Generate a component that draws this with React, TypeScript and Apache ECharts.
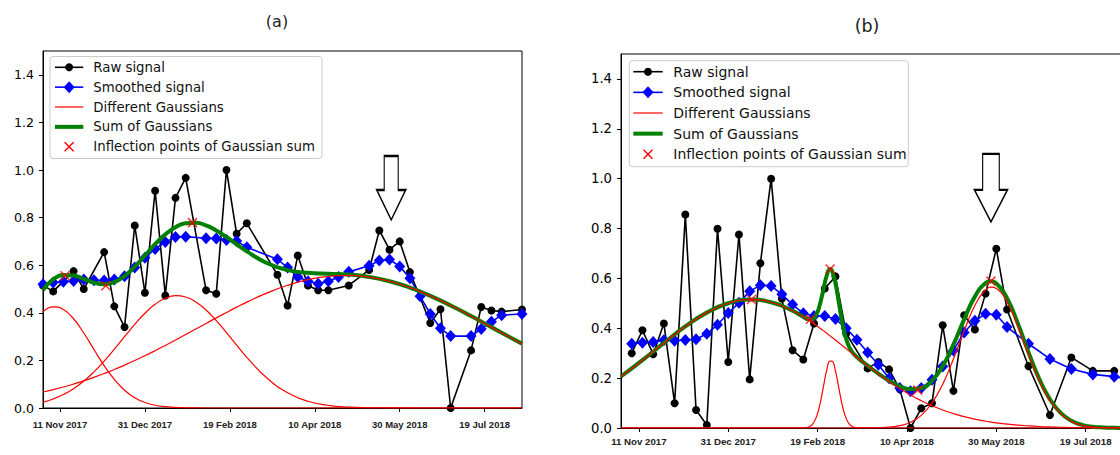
import React, { useEffect, useRef } from "react";
import * as echarts from "echarts";

// ---------- shared axis settings ----------
const X_START = "2017-11-01";
const X_END = "2018-08-10";
const Y_MAX = 1.5;
const TICK_DATES = ["2017-11-11", "2017-12-31", "2018-02-19", "2018-04-10", "2018-05-30", "2018-07-19"];
const TICK_LABELS = ["11 Nov 2017", "31 Dec 2017", "19 Feb 2018", "10 Apr 2018", "30 May 2018", "19 Jul 2018"];
const Y_TICKS = [0, 0.2, 0.4, 0.6, 0.8, 1.0, 1.2, 1.4];
const PANEL_TITLES = ["(a)", "(b)"];
const LEGEND_LABELS = [
  "Raw signal",
  "Smoothed signal",
  "Different Gaussians",
  "Sum of Gaussians",
  "Inflection points of Gaussian sum",
];

// ---------- panel (a) ----------
const RAW_A_DATES = [
  "2017-11-01", "2017-11-07", "2017-11-19", "2017-11-25", "2017-12-07", "2017-12-13", "2017-12-19",
  "2017-12-25", "2017-12-31", "2018-01-06", "2018-01-12", "2018-01-18", "2018-01-24", "2018-02-05",
  "2018-02-11", "2018-02-17", "2018-02-23", "2018-03-01", "2018-03-19", "2018-03-25", "2018-03-31",
  "2018-04-06", "2018-04-12", "2018-04-18", "2018-04-30", "2018-05-12", "2018-05-18", "2018-05-24",
  "2018-05-30", "2018-06-05", "2018-06-17", "2018-06-23", "2018-06-29", "2018-07-11", "2018-07-17",
  "2018-07-23", "2018-07-29", "2018-08-10",
];
const RAW_A = [
  0.515, 0.49, 0.575, 0.5, 0.655, 0.427, 0.34,
  0.767, 0.484, 0.913, 0.473, 0.883, 0.967, 0.495,
  0.48, 1.0, 0.732, 0.776, 0.56, 0.431, 0.641,
  0.515, 0.495, 0.495, 0.515, 0.58, 0.746, 0.665,
  0.7, 0.571, 0.357, 0.415, 0.0, 0.242, 0.424,
  0.41, 0.405, 0.414,
];
const SMOOTH_A_DATES = [
  "2017-11-01", "2017-11-07", "2017-11-13", "2017-11-19", "2017-11-25", "2017-12-01", "2017-12-07",
  "2017-12-13", "2017-12-19", "2017-12-25", "2017-12-31", "2018-01-06", "2018-01-12", "2018-01-18",
  "2018-01-24", "2018-02-05", "2018-02-11", "2018-02-17", "2018-02-23", "2018-03-01", "2018-03-19",
  "2018-03-25", "2018-03-31", "2018-04-06", "2018-04-12", "2018-04-18", "2018-04-24", "2018-04-30",
  "2018-05-12", "2018-05-18", "2018-05-24", "2018-05-30", "2018-06-05", "2018-06-11", "2018-06-17",
  "2018-06-23", "2018-06-29", "2018-07-11", "2018-07-17", "2018-07-23", "2018-07-29", "2018-08-10",
];
const SMOOTH_A = [
  0.52, 0.527, 0.53, 0.534, 0.54, 0.537, 0.536,
  0.54, 0.554, 0.59, 0.631, 0.668, 0.698, 0.718,
  0.72, 0.713, 0.712, 0.706, 0.702, 0.675, 0.625,
  0.59, 0.55, 0.533, 0.522, 0.533, 0.55, 0.572,
  0.598, 0.62, 0.624, 0.595, 0.545, 0.47, 0.395,
  0.335, 0.302, 0.302, 0.332, 0.362, 0.39, 0.395,
];
const CURVE_A_DATES = [
  "2017-11-01", "2017-11-07", "2017-11-13", "2017-11-19", "2017-11-25", "2017-12-01", "2017-12-07",
  "2017-12-13", "2017-12-19", "2017-12-25", "2017-12-31", "2018-01-06", "2018-01-12", "2018-01-18",
  "2018-01-24", "2018-01-30", "2018-02-05", "2018-02-11", "2018-02-17", "2018-02-23", "2018-03-01",
  "2018-03-13", "2018-03-25", "2018-04-06", "2018-04-18", "2018-04-30", "2018-05-12", "2018-05-24",
  "2018-06-05", "2018-06-17", "2018-06-29", "2018-07-11", "2018-07-23", "2018-08-04", "2018-08-10",
];
const GAUSS_A1 = [
  0.404, 0.425, 0.414, 0.375, 0.315, 0.246, 0.178,
  0.12, 0.0748, 0.0434, 0.0233, 0.0117, 0.0054, 0.0023,
  0.0009, 0.0003, 0.0001, 0, 0, 0, 0,
  0, 0, 0, 0, 0, 0, 0,
  0, 0, 0, 0, 0, 0, 0,
];
const GAUSS_A2 = [
  0.0246, 0.0379, 0.0564, 0.0811, 0.1128, 0.1515, 0.1968,
  0.2469, 0.2995, 0.3511, 0.3979, 0.4357, 0.4612, 0.4718,
  0.4664, 0.4457, 0.4116, 0.3675, 0.317, 0.2643, 0.213,
  0.1249, 0.0639, 0.0285, 0.0111, 0.0038, 0.0011, 0.0003,
  0.0001, 0, 0, 0, 0, 0, 0,
];
const GAUSS_A3 = [
  0.0671, 0.0771, 0.0883, 0.1007, 0.1142, 0.1289, 0.1448,
  0.1618, 0.1801, 0.1994, 0.2197, 0.2409, 0.2629, 0.2855,
  0.3086, 0.332, 0.3554, 0.3787, 0.4015, 0.4237, 0.4449,
  0.4835, 0.5156, 0.5393, 0.5533, 0.5569, 0.5497, 0.5324,
  0.5058, 0.4713, 0.4308, 0.3863, 0.3398, 0.2932, 0.2704,
];
const SUM_A = [
  0.4957, 0.54, 0.5587, 0.5568, 0.542, 0.5264, 0.5196,
  0.5287, 0.5544, 0.5939, 0.6409, 0.6883, 0.7295, 0.7596,
  0.7759, 0.778, 0.7671, 0.7462, 0.7185, 0.688, 0.6579,
  0.6084, 0.5795, 0.5678, 0.5644, 0.5607, 0.5508, 0.5327,
  0.5059, 0.4713, 0.4308, 0.3863, 0.3398, 0.2932, 0.2704,
];
const INFLECT_A_DATES = ["2017-11-14", "2017-12-08", "2018-01-28"];
const INFLECT_A = [0.556, 0.514, 0.779];
const ARROW_A_DATE = "2018-05-25";
const ARROW_A_VALUE = 0.79;

// ---------- panel (b) ----------
const RAW_B_DATES = [
  "2017-11-07", "2017-11-13", "2017-11-19", "2017-11-25", "2017-12-01", "2017-12-07", "2017-12-13",
  "2017-12-19", "2017-12-25", "2017-12-31", "2018-01-06", "2018-01-12", "2018-01-18", "2018-01-24",
  "2018-01-30", "2018-02-05", "2018-02-11", "2018-02-17", "2018-02-23", "2018-03-01", "2018-03-07",
  "2018-03-19", "2018-03-25", "2018-03-31", "2018-04-06", "2018-04-12", "2018-04-18", "2018-04-24",
  "2018-04-30", "2018-05-06", "2018-05-12", "2018-05-18", "2018-05-24", "2018-05-30", "2018-06-05",
  "2018-06-17", "2018-06-29", "2018-07-11", "2018-07-23", "2018-08-04",
];
const RAW_B = [
  0.3, 0.392, 0.296, 0.419, 0.099, 0.856, 0.072,
  0.012, 0.799, 0.265, 0.776, 0.195, 0.661, 1.0,
  0.519, 0.312, 0.275, 0.419, 0.559, 0.608, 0.379,
  0.239, 0.265, 0.235, 0.155, 0.0, 0.079, 0.099,
  0.412, 0.149, 0.452, 0.395, 0.539, 0.719, 0.475,
  0.248, 0.052, 0.283, 0.229, 0.229,
];
const SMOOTH_B_DATES = [
  "2017-11-07", "2017-11-13", "2017-11-19", "2017-11-25", "2017-12-01", "2017-12-07", "2017-12-13",
  "2017-12-19", "2017-12-25", "2017-12-31", "2018-01-06", "2018-01-12", "2018-01-18", "2018-01-24",
  "2018-01-30", "2018-02-05", "2018-02-11", "2018-02-17", "2018-02-23", "2018-03-01", "2018-03-07",
  "2018-03-13", "2018-03-19", "2018-03-25", "2018-03-31", "2018-04-06", "2018-04-12", "2018-04-18",
  "2018-04-24", "2018-04-30", "2018-05-06", "2018-05-12", "2018-05-18", "2018-05-24", "2018-05-30",
  "2018-06-05", "2018-06-17", "2018-06-29", "2018-07-11", "2018-07-23", "2018-08-04", "2018-08-10",
];
const SMOOTH_B = [
  0.338, 0.342, 0.345, 0.352, 0.35, 0.353, 0.356,
  0.378, 0.414, 0.461, 0.502, 0.548, 0.573, 0.57,
  0.536, 0.495, 0.46, 0.449, 0.449, 0.437, 0.4,
  0.354, 0.303, 0.254, 0.2, 0.16, 0.147, 0.16,
  0.194, 0.247, 0.311, 0.383, 0.43, 0.458, 0.454,
  0.405, 0.338, 0.277, 0.237, 0.215, 0.206, 0.2,
];
const CURVE_B_DATES = [
  "2017-11-01", "2017-11-13", "2017-11-25", "2017-12-07", "2017-12-19", "2017-12-31", "2018-01-12",
  "2018-01-24", "2018-02-05", "2018-02-11", "2018-02-14", "2018-02-16", "2018-02-18", "2018-02-20",
  "2018-02-22", "2018-02-24", "2018-02-26", "2018-02-27", "2018-03-01", "2018-03-03", "2018-03-05",
  "2018-03-07", "2018-03-09", "2018-03-11", "2018-03-14", "2018-03-19", "2018-03-25", "2018-03-31",
  "2018-04-06", "2018-04-12", "2018-04-18", "2018-04-24", "2018-04-30", "2018-05-06", "2018-05-12",
  "2018-05-18", "2018-05-24", "2018-05-27", "2018-05-30", "2018-06-05", "2018-06-11", "2018-06-17",
  "2018-06-23", "2018-06-29", "2018-07-05", "2018-07-11", "2018-07-17", "2018-07-23", "2018-07-29",
  "2018-08-04", "2018-08-10",
];
const GAUSS_B1 = [
  0.2065, 0.2721, 0.3412, 0.4073, 0.4627, 0.5003, 0.5149,
  0.5044, 0.4703, 0.4458, 0.4321, 0.4224, 0.4124, 0.402,
  0.3915, 0.3806, 0.3695, 0.364, 0.3526, 0.3412, 0.3297,
  0.3181, 0.3066, 0.295, 0.2778, 0.2496, 0.217, 0.1863,
  0.1581, 0.1324, 0.1096, 0.0896, 0.0723, 0.0577, 0.0454,
  0.0353, 0.0272, 0.0237, 0.0206, 0.0155, 0.0114, 0.0084,
  0.006, 0.0043, 0.003, 0.0021, 0.0015, 0.001, 0.0007,
  0.0004, 0.0003,
];
const GAUSS_B2 = [
  0, 0, 0, 0, 0, 0, 0,
  0, 0, 0.0004, 0.0039, 0.0137, 0.0383, 0.0861,
  0.1561, 0.228, 0.2682, 0.2682, 0.228, 0.1561, 0.0861,
  0.0383, 0.0137, 0.0039, 0.0004, 0, 0, 0,
  0, 0, 0, 0, 0, 0, 0,
  0, 0, 0, 0, 0, 0, 0,
  0, 0, 0, 0, 0, 0, 0,
  0, 0,
];
const GAUSS_B3 = [
  0, 0, 0, 0, 0, 0, 0,
  0, 0, 0, 0, 0, 0, 0,
  0, 0, 0, 0, 0, 0, 0,
  0, 0, 0, 0, 0.0003, 0.0011, 0.0034,
  0.0094, 0.0232, 0.0508, 0.0999, 0.1759, 0.2769, 0.39,
  0.4916, 0.5544, 0.5648, 0.5596, 0.5054, 0.4084, 0.2954,
  0.1912, 0.1107, 0.0574, 0.0266, 0.011, 0.0041, 0.0014,
  0.0004, 0.0001,
];
const SUM_B = [
  0.2065, 0.2721, 0.3412, 0.4073, 0.4627, 0.5003, 0.5149,
  0.5044, 0.4703, 0.4462, 0.436, 0.4361, 0.4507, 0.4881,
  0.5476, 0.6086, 0.6377, 0.6322, 0.5806, 0.4973, 0.4158,
  0.3564, 0.3203, 0.2989, 0.2782, 0.2499, 0.2181, 0.1897,
  0.1675, 0.1556, 0.1604, 0.1895, 0.2482, 0.3346, 0.4354,
  0.5269, 0.5816, 0.5885, 0.5802, 0.5209, 0.4198, 0.3038,
  0.1972, 0.115, 0.0604, 0.0287, 0.0125, 0.0051, 0.0021,
  0.0008, 0.0004,
];
const INFLECT_B_DATES = ["2018-01-13", "2018-02-15", "2018-02-26", "2018-04-16", "2018-05-27"];
const INFLECT_B = [0.515, 0.436, 0.638, 0.152, 0.589];
const ARROW_B_DATE = "2018-05-27";
const ARROW_B_VALUE = 0.827;

// ---------- styling ----------
const C_RAW = "#000000";
const C_SMOOTH = "#0000ff";
const C_GAUSS = "#ff0000";
const C_SUM = "#008000";
const SANS = '"DejaVu Sans", sans-serif';
const X_FONT = '"Liberation Sans", Arial, sans-serif';
const CROSS = "path://M0,0L10,10M10,0L0,10";

const LAYOUT = [
  {
    grid: { left: 43, top: 51, width: 479, height: 357 },
    yFont: 12.6,
    xFont: 9.5,
    xMargin: 11,
    title: { x: 277, y: 21, size: 16 },
    legend: { x: 50, y: 56.5, w: 272, h: 102, row0: 67.3, gap: 19.85, h1: 55, h2: 83.3, tx: 93.3, font: 13.3 },
    arrow: { path: "path://M7.5,0L21.5,0L21.5,34L29,34L14.5,64L0,34L7.5,34Z", size: [29, 64] },
  },
  {
    grid: { left: 621, top: 54, width: 504, height: 374 },
    yFont: 13.2,
    xFont: 9.7,
    xMargin: 8,
    title: { x: 867, y: 26, size: 17.5 },
    legend: { x: 629.3, y: 60.7, w: 279, h: 106, row0: 71.7, gap: 20.65, h1: 633.3, h2: 662.7, tx: 673.3, font: 14 },
    arrow: { path: "path://M8.2,0L24.8,0L24.8,36L33,36L16.5,68L0,36L8.2,36Z", size: [33, 68] },
  },
];

const toTime = (s: string) => {
  const [y, m, d] = s.split("-").map(Number);
  return new Date(y, m - 1, d).getTime();
};
const pairs = (dates: string[], values: number[]) => dates.map((d, i) => [toTime(d), values[i]]);

const PANELS = [
  {
    raw: pairs(RAW_A_DATES, RAW_A),
    smooth: pairs(SMOOTH_A_DATES, SMOOTH_A),
    gaussians: [GAUSS_A1, GAUSS_A2, GAUSS_A3].map((g) => pairs(CURVE_A_DATES, g)),
    sum: pairs(CURVE_A_DATES, SUM_A),
    inflect: pairs(INFLECT_A_DATES, INFLECT_A),
    arrow: [toTime(ARROW_A_DATE), ARROW_A_VALUE],
  },
  {
    raw: pairs(RAW_B_DATES, RAW_B),
    smooth: pairs(SMOOTH_B_DATES, SMOOTH_B),
    gaussians: [GAUSS_B1, GAUSS_B2, GAUSS_B3].map((g) => pairs(CURVE_B_DATES, g)),
    sum: pairs(CURVE_B_DATES, SUM_B),
    inflect: pairs(INFLECT_B_DATES, INFLECT_B),
    arrow: [toTime(ARROW_B_DATE), ARROW_B_VALUE],
  },
];

const tickTimes = TICK_DATES.map(toTime);
const tickLabel = (v: number) => {
  let best = 0;
  for (let i = 1; i < tickTimes.length; i++) {
    if (Math.abs(tickTimes[i] - v) < Math.abs(tickTimes[best] - v)) best = i;
  }
  return Math.abs(tickTimes[best] - v) < 86400000 ? TICK_LABELS[best] : "";
};

function legendElements(L: any) {
  const els: any[] = [];
  els.push({
    type: "rect",
    z: 100,
    shape: { x: L.x, y: L.y, width: L.w, height: L.h, r: 3 },
    style: { fill: "rgba(255,255,255,0.8)", stroke: "#cccccc", lineWidth: 1 },
  });
  const cx = (L.h1 + L.h2) / 2;
  LEGEND_LABELS.forEach((label, i) => {
    const y = L.row0 + i * L.gap;
    const seg = (stroke: string, lineWidth: number) => ({
      type: "line",
      z: 101,
      shape: { x1: L.h1, y1: y, x2: L.h2, y2: y },
      style: { stroke, lineWidth },
    });
    if (i === 0) {
      els.push(seg(C_RAW, 1.6));
      els.push({ type: "circle", z: 102, shape: { cx, cy: y, r: 4 }, style: { fill: C_RAW } });
    } else if (i === 1) {
      els.push(seg(C_SMOOTH, 1.6));
      els.push({
        type: "polygon",
        z: 102,
        shape: { points: [[cx, y - 6], [cx + 5.5, y], [cx, y + 6], [cx - 5.5, y]] },
        style: { fill: C_SMOOTH },
      });
    } else if (i === 2) {
      els.push(seg(C_GAUSS, 1.2));
    } else if (i === 3) {
      els.push(seg(C_SUM, 4));
    } else {
      els.push({ type: "line", z: 102, shape: { x1: cx - 4.5, y1: y - 4.5, x2: cx + 4.5, y2: y + 4.5 }, style: { stroke: C_GAUSS, lineWidth: 1.4 } });
      els.push({ type: "line", z: 102, shape: { x1: cx - 4.5, y1: y + 4.5, x2: cx + 4.5, y2: y - 4.5 }, style: { stroke: C_GAUSS, lineWidth: 1.4 } });
    }
    els.push({
      type: "text",
      z: 102,
      x: L.tx,
      y,
      style: {
        text: label,
        fontSize: L.font,
        fontFamily: SANS,
        fill: "#111111",
        textVerticalAlign: "middle",
        verticalAlign: "middle",
      },
    });
  });
  return els;
}

function buildOption() {
  const grid: any[] = [];
  const xAxis: any[] = [];
  const yAxis: any[] = [];
  const series: any[] = [];
  const graphics: any[] = [];

  PANELS.forEach((p, k) => {
    const lay = LAYOUT[k];
    grid.push({
      ...lay.grid,
      show: true,
      borderColor: "#000",
      borderWidth: 1,
      backgroundColor: "transparent",
      containLabel: false,
      outerBoundsMode: "none",
    });
    // dates are plotted as timestamps on a value axis so the tick dates can be set exactly
    xAxis.push({
      type: "value",
      gridIndex: k,
      min: toTime(X_START),
      max: toTime(X_END),
      axisLine: { show: true, lineStyle: { color: "#000", width: 1 } },
      axisTick: { show: true, length: 4, lineStyle: { color: "#000", width: 1 }, customValues: tickTimes },
      axisLabel: {
        customValues: tickTimes,
        formatter: (v: number) => tickLabel(v),
        fontFamily: X_FONT,
        fontWeight: "bold",
        fontSize: lay.xFont,
        color: "#222",
        margin: lay.xMargin,
      },
      splitLine: { show: false },
    });
    yAxis.push({
      type: "value",
      gridIndex: k,
      min: 0,
      max: Y_MAX,
      axisLine: { show: true, lineStyle: { color: "#000", width: 1 } },
      axisTick: { show: true, length: 4, lineStyle: { color: "#000", width: 1 }, customValues: Y_TICKS },
      axisLabel: {
        customValues: Y_TICKS,
        formatter: (v: number) => v.toFixed(1),
        fontFamily: SANS,
        fontSize: lay.yFont,
        color: "#000",
        margin: 9,
      },
      splitLine: { show: false },
    });

    const base = { xAxisIndex: k, yAxisIndex: k, emphasis: { disabled: true }, silent: true };
    series.push({
      ...base,
      name: LEGEND_LABELS[0],
      type: "line",
      z: 2,
      data: p.raw,
      symbol: "circle",
      symbolSize: 8,
      showSymbol: true,
      showAllSymbol: true,
      lineStyle: { color: C_RAW, width: 1.6 },
      itemStyle: { color: C_RAW },
    });
    series.push({
      ...base,
      name: LEGEND_LABELS[1],
      type: "line",
      z: 3,
      data: p.smooth,
      symbol: "diamond",
      symbolSize: [11, 12],
      showSymbol: true,
      showAllSymbol: true,
      lineStyle: { color: C_SMOOTH, width: 1.6 },
      itemStyle: { color: C_SMOOTH },
      markPoint: {
        silent: true,
        symbol: lay.arrow.path,
        symbolSize: lay.arrow.size,
        symbolOffset: [0, "-50%"],
        label: { show: false },
        itemStyle: { color: "#ffffff", borderColor: "#000000", borderWidth: 1.6 },
        data: [{ coord: p.arrow }],
      },
    });
    series.push({
      ...base,
      name: LEGEND_LABELS[3],
      type: "line",
      z: 4,
      data: p.sum,
      smooth: 0.5,
      showSymbol: false,
      lineStyle: { color: C_SUM, width: 4 },
      itemStyle: { color: C_SUM },
    });
    p.gaussians.forEach((g) => {
      series.push({
        ...base,
        name: LEGEND_LABELS[2],
        type: "line",
        z: 5,
        data: g,
        smooth: 0.5,
        showSymbol: false,
        lineStyle: { color: C_GAUSS, width: 1.2 },
        itemStyle: { color: C_GAUSS },
      });
    });
    series.push({
      ...base,
      name: LEGEND_LABELS[4],
      type: "scatter",
      z: 6,
      data: p.inflect,
      symbol: CROSS,
      symbolSize: 9,
      itemStyle: { color: "none", borderColor: C_GAUSS, borderWidth: 1.5 },
    });

    graphics.push({
      type: "text",
      z: 100,
      x: lay.title.x,
      y: lay.title.y,
      style: {
        text: PANEL_TITLES[k],
        fontSize: lay.title.size,
        fontFamily: SANS,
        fill: "#222",
        textAlign: "center",
        align: "center",
        textVerticalAlign: "middle",
        verticalAlign: "middle",
      },
    });
    graphics.push(...legendElements(lay.legend));
  });

  return {
    animation: false,
    backgroundColor: "#ffffff",
    grid,
    xAxis,
    yAxis,
    series,
    graphic: { elements: graphics },
  };
}

export default function App() {
  const ref = useRef<HTMLDivElement>(null);
  useEffect(() => {
    if (!ref.current) return;
    const chart = echarts.init(ref.current, undefined, { renderer: "svg" });
    chart.setOption(buildOption() as any);
    return () => chart.dispose();
  }, []);
  return (
    <div
      ref={ref}
      style={{ position: "absolute", left: 0, top: 0, width: 1120, height: 455, background: "#fff" }}
    />
  );
}
